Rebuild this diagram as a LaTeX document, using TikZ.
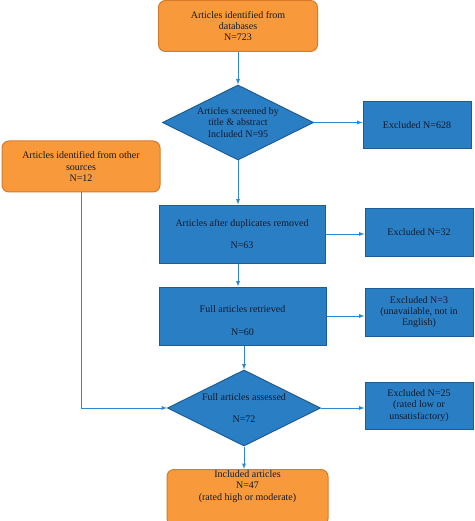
\documentclass[tikz,border=0pt]{standalone}
\usepackage{fontspec}
\setmainfont{Liberation Serif}
\usetikzlibrary{arrows,shapes.geometric}

\definecolor{boxorange}{HTML}{F89A3C}
\definecolor{lineorange}{HTML}{D97A2B}
\definecolor{boxblue}{HTML}{2A7FC4}
\definecolor{lineblue}{HTML}{1D5C94}
\definecolor{arrowblue}{HTML}{2E88D0}
\definecolor{textnavy}{HTML}{121A2C}

\begin{document}
\begin{tikzpicture}[x=1pt,y=1pt,yscale=-1,xscale=1,
  txt/.style={text=textnavy,font=\fontsize{10}{11.3}\selectfont,align=center},
  startbox/.style={txt,draw=lineorange,fill=boxorange,line width=1pt,rounded corners=7pt,inner sep=0pt},
  stagebox/.style={txt,draw=lineblue,fill=boxblue,line width=1pt,inner sep=0pt},
  checkbox/.style={txt,draw=lineblue,fill=boxblue,line width=1pt,diamond,aspect=2,inner sep=0pt},
  flow/.style={draw=arrowblue,line width=0.9pt,-latex}]
\useasboundingbox (0,0) rectangle (474,521);

%Start: databases
\node (db) [startbox,minimum width=159pt,minimum height=51pt] at (238,26) {Articles identified from\\databases\\N=723};
%Start: other sources
\node (oth) [startbox,minimum width=158pt,minimum height=51pt] at (81,166.5) {Articles identified from other\\sources\\N=12};

%Screening
\node (scr) [checkbox,minimum width=151pt,minimum height=75pt] at (238,122.5) {Articles screened by\\title \& abstract\\Included N=95};
\node (ex1) [stagebox,minimum width=108pt,minimum height=47pt] at (417,125.5) {Excluded N=628};

%Duplicates
\node (dup) [stagebox,minimum width=166pt,minimum height=58pt] at (242,234) {Articles after duplicates removed\\[11pt]N=63};
\node (ex2) [stagebox,minimum width=108pt,minimum height=48pt] at (419,232) {Excluded N=32};

%Retrieved
\node (ret) [stagebox,minimum width=167pt,minimum height=58pt] at (242.5,316) {};
\node (rettxt) [txt,inner sep=0pt] at ([yshift=4.5pt]ret.center) {Full articles retrieved\\[11pt]N=60};
\node (ex3) [stagebox,minimum width=108pt,minimum height=48pt] at (419,312) {Excluded N=3\\(unavailable, not in\\English)};

%Assessed
\node (ass) [checkbox,minimum width=153pt,minimum height=76pt] at (244,408) {Full articles assessed\\[11pt]N=72};
\node (ex4) [stagebox,minimum width=108pt,minimum height=47pt] at (419,405.5) {Excluded N=25\\(rated low or\\unsatisfactory)};

%Included
\node (inc) [startbox,minimum width=161pt,minimum height=56pt,anchor=north] at (247.5,469) {};
\node (inctxt) [txt,anchor=north,inner sep=0pt] at ([yshift=1.5pt]inc.north) {Included articles\\N=47\\(rated high or moderate)};

%Arrows
\draw [flow] (db.south) -- (scr.north);
\draw [flow] (scr.south) -- (scr.south |- dup.north);
\draw [flow] (dup.south -| scr.south) -- (ret.north -| scr.south);
\draw [flow] (ret.south -| ass.north) -- (ass.north);
\draw [flow] (ass.south) -- (ass.south |- inc.north);
\draw [flow] (scr.east) -- (scr.east -| ex1.west);
\draw [flow] (dup.east) -- (dup.east -| ex2.west);
\draw [flow] (ret.east) -- (ret.east -| ex3.west);
\draw [flow] (ass.east) -- (ass.east -| ex4.west);
\draw [flow] (oth.south) |- (ass.west);

\end{tikzpicture}
\end{document}
